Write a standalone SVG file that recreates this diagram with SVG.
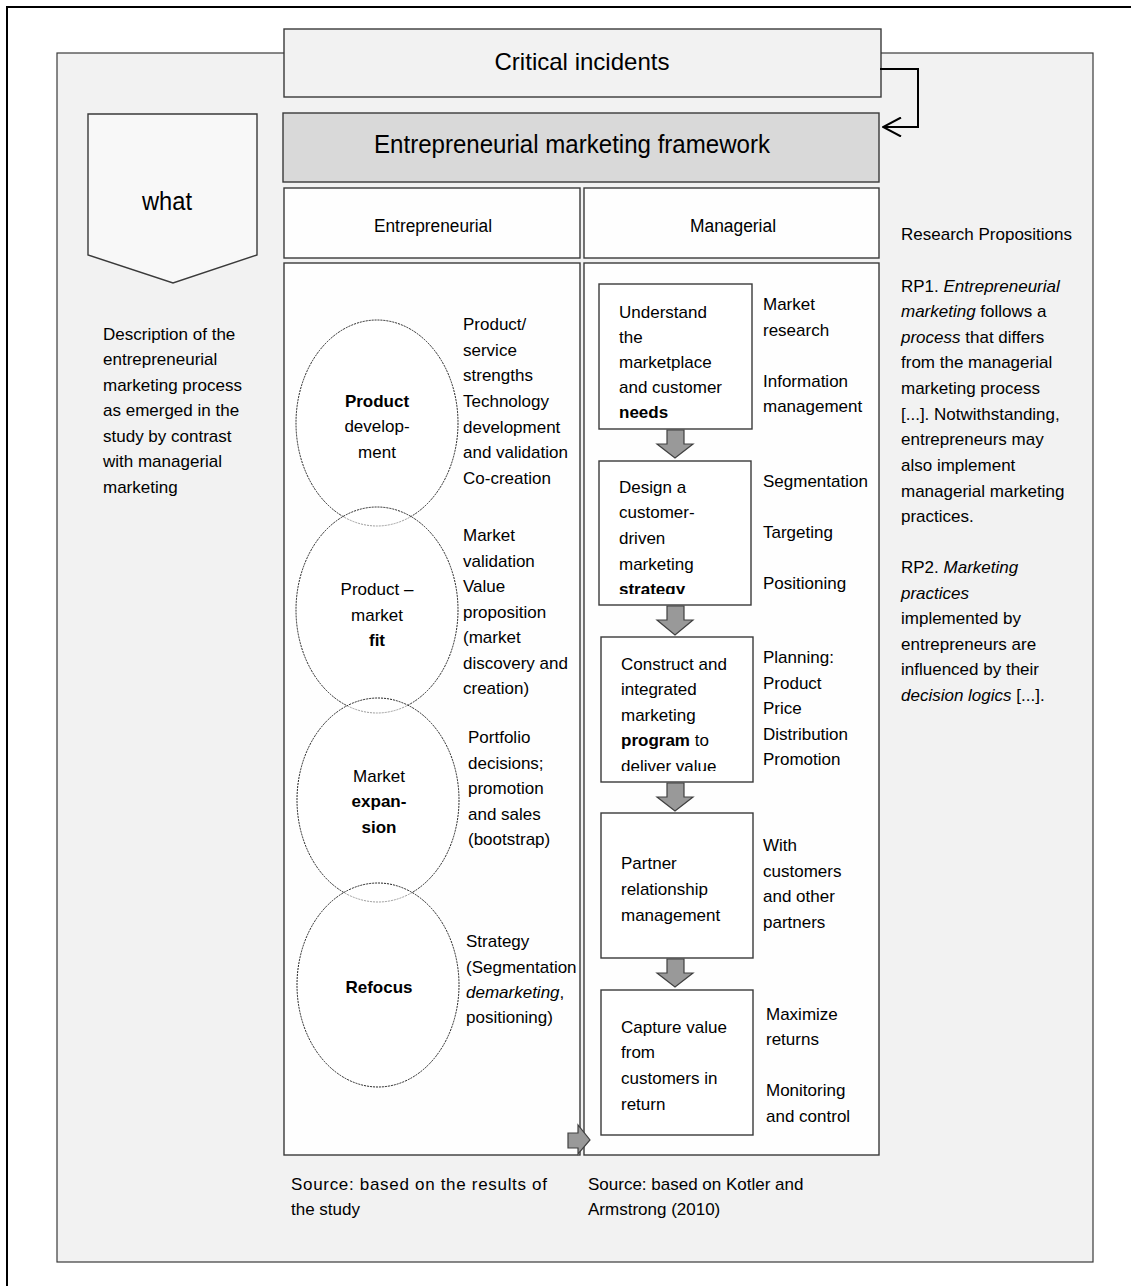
<svg xmlns="http://www.w3.org/2000/svg" width="1131" height="1286" viewBox="0 0 1131 1286">
<style>
.t{font-family:"Liberation Sans",Arial,sans-serif;font-size:17px;fill:#000}
.c{text-anchor:middle}
.b{font-weight:bold}
.i{font-style:italic}
.box{stroke:#3a3a3a;stroke-width:1.4}
.ell{fill:#fff;fill-opacity:0.55;stroke:#222;stroke-width:1;stroke-dasharray:2 1}
.darr{fill:#999;stroke:#404040;stroke-width:1.2}
</style>
<defs>
<marker id="open" viewBox="0 0 20 20" refX="19" refY="10" markerWidth="20" markerHeight="20" markerUnits="userSpaceOnUse" orient="auto">
<path d="M1,0.5 L19,10 L1,19.5" fill="none" stroke="#000" stroke-width="2"/>
</marker>
<clipPath id="clip2"><rect x="600" y="462" width="150" height="132"/></clipPath>
<clipPath id="clip3"><rect x="602" y="638" width="150" height="133"/></clipPath>
</defs>
<rect width="1131" height="1286" fill="#fff"/>
<rect x="7" y="7" width="1130" height="1290" fill="none" stroke="#000" stroke-width="2"/>
<g id="panel">
<rect x="57" y="53" width="1036" height="1209" fill="#f2f2f2" stroke="#3a3a3a" stroke-width="1.2"/>
</g>
<g id="critical">
<rect class="box" x="284" y="29" width="597" height="68" fill="#f2f2f2"/>
<text class="t c" x="582" y="70" style="font-size:24px" textLength="175" lengthAdjust="spacingAndGlyphs">Critical incidents</text>
</g>
<g id="framework">
<rect class="box" x="283" y="113" width="596" height="69" fill="#d9d9d9"/>
<text class="t c" x="572" y="153" style="font-size:25px" textLength="396" lengthAdjust="spacingAndGlyphs">Entrepreneurial marketing framework</text>
</g>
<g id="what">
<path class="box" d="M88,114 H257 V255 L173,283 L88,255 Z" fill="#f8f8f8"/>
<text class="t c" x="167" y="210" style="font-size:25px" textLength="50" lengthAdjust="spacingAndGlyphs">what</text>
</g>
<g id="description">
<text class="t" x="103" y="340">Description of the</text>
<text class="t" x="103" y="365">entrepreneurial</text>
<text class="t" x="103" y="391">marketing process</text>
<text class="t" x="103" y="416">as emerged in the</text>
<text class="t" x="103" y="442">study by contrast</text>
<text class="t" x="103" y="467">with managerial</text>
<text class="t" x="103" y="493">marketing</text>
</g>
<g id="header-entrepreneurial">
<rect class="box" x="284" y="188" width="296" height="70" fill="#fefefe"/>
<text class="t c" x="433" y="232" style="font-size:18px" textLength="118" lengthAdjust="spacingAndGlyphs">Entrepreneurial</text>
</g>
<g id="header-managerial">
<rect class="box" x="584" y="188" width="295" height="70" fill="#fefefe"/>
<text class="t c" x="733" y="232" style="font-size:18px" textLength="86" lengthAdjust="spacingAndGlyphs">Managerial</text>
</g>
<g id="entrepreneurial-panel">
<rect class="box" x="284" y="263" width="296" height="892" fill="#fefefe"/>
</g>
<g id="managerial-panel">
<rect class="box" x="584" y="263" width="295" height="892" fill="#fefefe"/>
</g>
<g id="product-development">
<ellipse class="ell" cx="377" cy="423" rx="81" ry="103"/>
<text class="t c b" x="377" y="407">Product</text>
<text class="t c" x="377" y="432">develop-</text>
<text class="t c" x="377" y="458">ment</text>
<text class="t" x="463" y="330">Product/</text>
<text class="t" x="463" y="356">service</text>
<text class="t" x="463" y="381">strengths</text>
<text class="t" x="463" y="407">Technology</text>
<text class="t" x="463" y="433">development</text>
<text class="t" x="463" y="458">and validation</text>
<text class="t" x="463" y="484">Co-creation</text>
</g>
<g id="product-market-fit">
<ellipse class="ell" cx="377" cy="610" rx="81" ry="103"/>
<text class="t c" x="377" y="595">Product –</text>
<text class="t c" x="377" y="621">market</text>
<text class="t c b" x="377" y="646">fit</text>
<text class="t" x="463" y="541">Market</text>
<text class="t" x="463" y="567">validation</text>
<text class="t" x="463" y="592">Value</text>
<text class="t" x="463" y="618">proposition</text>
<text class="t" x="463" y="643">(market</text>
<text class="t" x="463" y="669">discovery and</text>
<text class="t" x="463" y="694">creation)</text>
</g>
<g id="market-expansion">
<ellipse class="ell" cx="378" cy="800" rx="81" ry="102"/>
<text class="t c" x="379" y="782">Market</text>
<text class="t c b" x="379" y="807">expan-</text>
<text class="t c b" x="379" y="833">sion</text>
<text class="t" x="468" y="743">Portfolio</text>
<text class="t" x="468" y="769">decisions;</text>
<text class="t" x="468" y="794">promotion</text>
<text class="t" x="468" y="820">and sales</text>
<text class="t" x="468" y="845">(bootstrap)</text>
</g>
<g id="refocus">
<ellipse class="ell" cx="378" cy="985" rx="81" ry="102"/>
<text class="t c b" x="379" y="993">Refocus</text>
<text class="t" x="466" y="947">Strategy</text>
<text class="t" x="466" y="973">(Segmentation</text>
<text class="t" x="466" y="998"><tspan class="i">demarketing</tspan>,</text>
<text class="t" x="466" y="1023">positioning)</text>
</g>
<g id="understand-needs">
<rect class="box" x="599" y="284" width="153" height="145" fill="#fff"/>
<text class="t" x="619" y="318">Understand</text>
<text class="t" x="619" y="343">the</text>
<text class="t" x="619" y="368">marketplace</text>
<text class="t" x="619" y="393">and customer</text>
<text class="t b" x="619" y="418">needs</text>
<text class="t" x="763" y="310">Market</text>
<text class="t" x="763" y="336">research</text>
<text class="t" x="763" y="387">Information</text>
<text class="t" x="763" y="412">management</text>
</g>
<g id="design-strategy">
<rect class="box" x="599" y="461" width="152" height="144" fill="#fff"/>
<g clip-path="url(#clip2)">
<text class="t" x="619" y="493">Design a</text>
<text class="t" x="619" y="518">customer-</text>
<text class="t" x="619" y="544">driven</text>
<text class="t" x="619" y="570">marketing</text>
<text class="t b" x="619" y="595">strategy</text>
</g>
<text class="t" x="763" y="487">Segmentation</text>
<text class="t" x="763" y="538">Targeting</text>
<text class="t" x="763" y="589">Positioning</text>
</g>
<g id="construct-program">
<rect class="box" x="601" y="637" width="152" height="145" fill="#fff"/>
<g clip-path="url(#clip3)">
<text class="t" x="621" y="670">Construct and</text>
<text class="t" x="621" y="695">integrated</text>
<text class="t" x="621" y="721">marketing</text>
<text class="t" x="621" y="746"><tspan class="b">program</tspan> to</text>
<text class="t" x="621" y="772">deliver value</text>
</g>
<text class="t" x="763" y="663">Planning:</text>
<text class="t" x="763" y="689">Product</text>
<text class="t" x="763" y="714">Price</text>
<text class="t" x="763" y="740">Distribution</text>
<text class="t" x="763" y="765">Promotion</text>
</g>
<g id="partner-relationship">
<rect class="box" x="601" y="813" width="152" height="145" fill="#fff"/>
<text class="t" x="621" y="869">Partner</text>
<text class="t" x="621" y="895">relationship</text>
<text class="t" x="621" y="921">management</text>
<text class="t" x="763" y="851">With</text>
<text class="t" x="763" y="877">customers</text>
<text class="t" x="763" y="902">and other</text>
<text class="t" x="763" y="928">partners</text>
</g>
<g id="capture-value">
<rect class="box" x="601" y="990" width="152" height="145" fill="#fff"/>
<text class="t" x="621" y="1033">Capture value</text>
<text class="t" x="621" y="1058">from</text>
<text class="t" x="621" y="1084">customers in</text>
<text class="t" x="621" y="1110">return</text>
<text class="t" x="766" y="1020">Maximize</text>
<text class="t" x="766" y="1045">returns</text>
<text class="t" x="766" y="1096">Monitoring</text>
<text class="t" x="766" y="1122">and control</text>
</g>
<g id="research-propositions">
<text class="t" x="901" y="240">Research Propositions</text>
<text class="t" x="901" y="292">RP1. <tspan class="i">Entrepreneurial</tspan></text>
<text class="t" x="901" y="317"><tspan class="i">marketing</tspan> follows a</text>
<text class="t" x="901" y="343"><tspan class="i">process</tspan> that differs</text>
<text class="t" x="901" y="368">from the managerial</text>
<text class="t" x="901" y="394">marketing process</text>
<text class="t" x="901" y="420">[...]. Notwithstanding,</text>
<text class="t" x="901" y="445">entrepreneurs may</text>
<text class="t" x="901" y="471">also implement</text>
<text class="t" x="901" y="497">managerial marketing</text>
<text class="t" x="901" y="522">practices.</text>
<text class="t" x="901" y="573">RP2. <tspan class="i">Marketing</tspan></text>
<text class="t" x="901" y="599"><tspan class="i">practices</tspan></text>
<text class="t" x="901" y="624">implemented by</text>
<text class="t" x="901" y="650">entrepreneurs are</text>
<text class="t" x="901" y="675">influenced by their</text>
<text class="t" x="901" y="701"><tspan class="i">decision logics</tspan> [...].</text>
</g>
<g id="sources">
<text class="t" x="291" y="1190" textLength="256" lengthAdjust="spacing">Source: based on the results of</text>
<text class="t" x="291" y="1215">the study</text>
<text class="t" x="588" y="1190">Source: based on Kotler and</text>
<text class="t" x="588" y="1215">Armstrong (2010)</text>
</g>
<g id="connectors">
<path d="M880,69 H918 V127 H883" fill="none" stroke="#000" stroke-width="2" marker-end="url(#open)"/>
<path class="darr" d="M667,430 H684 V444 H693 L675,458 L657,444 H667 Z"/>
<path class="darr" d="M667,606 H684 V620 H693 L675,635 L657,620 H667 Z"/>
<path class="darr" d="M667,783 H684 V797 H693 L675,811 L657,797 H667 Z"/>
<path class="darr" d="M667,959 H684 V973 H693 L675,987 L657,973 H667 Z"/>
<path class="darr" d="M568,1133 H578 V1125 L590,1140 L578,1154 V1148 H568 Z"/>
</g>
</svg>
